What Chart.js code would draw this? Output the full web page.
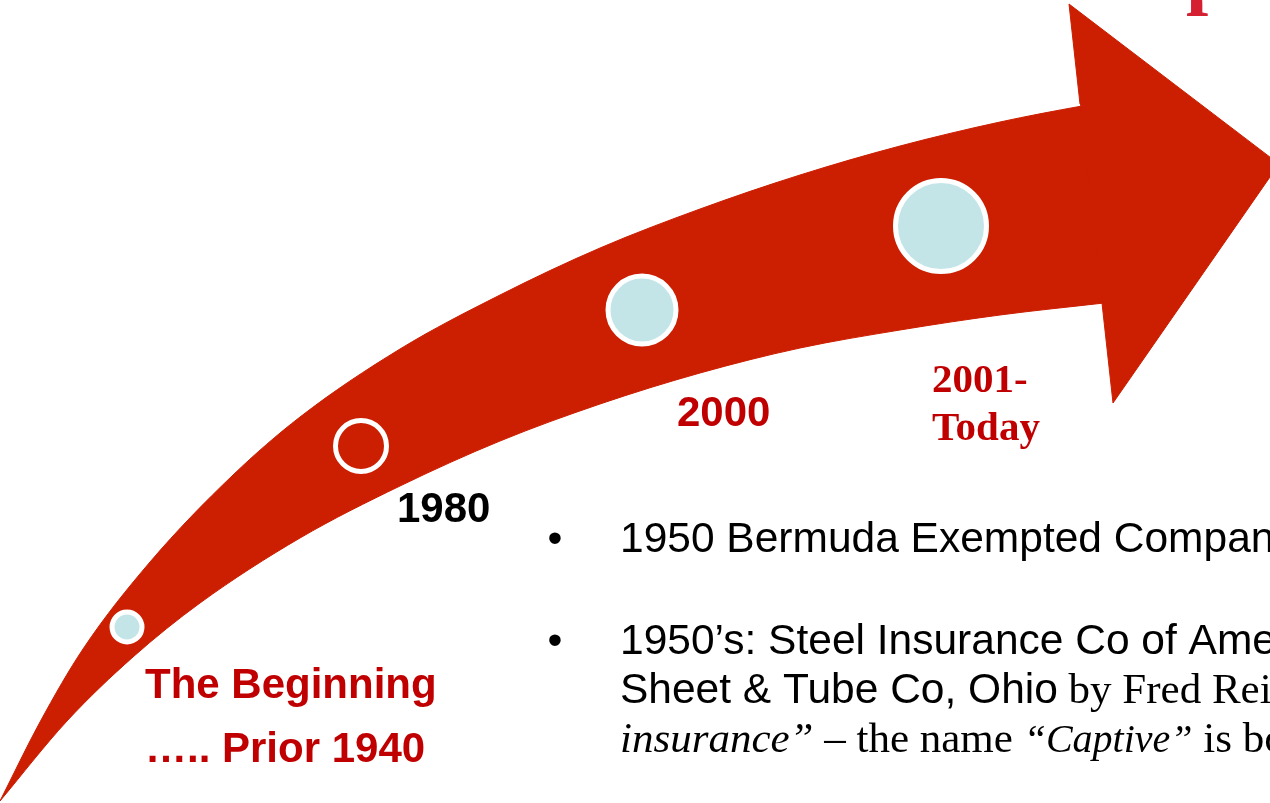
<!DOCTYPE html>
<html>
<head>
<meta charset="utf-8">
<script src="https://cdn.jsdelivr.net/npm/chart.js@4"></script>
<style>
  html, body { margin: 0; padding: 0; background: #ffffff; }
  #wrap { width: 1270px; height: 803px; overflow: hidden; }
</style>
</head>
<body>
<div id="wrap"><canvas id="timeline" width="1270" height="803"></canvas></div>
<script>
// --- DADOS ---
// outer (upper) edge of the arrow body, tail to head (last point sits inside the head)
const upperX = [0, 40, 83, 150, 233, 300, 400, 500, 600, 700, 800, 900, 1000, 1082, 1130];
const upperY = [801, 722, 649, 562, 475, 417, 349, 295, 248, 209, 175, 146, 122, 106, 98];
// inner (lower) edge of the arrow body, tail to head (last point sits inside the head)
const lowerX = [0, 67, 133, 200, 300, 400, 500, 600, 700, 800, 900, 1000, 1104, 1130];
const lowerY = [801, 721, 657, 603, 538, 486, 441, 404, 373, 348, 330, 315, 303, 300];
// the head of the arrow: shoulder, top barb, tip, bottom barb, shoulder
const headX = [1080, 1069, 1279, 1113, 1102];
const headY = [104, 4, 164, 403, 303];

// milestones on the arrow
const milestoneX = [127, 361, 642, 941];
const milestoneY = [627, 446, 310, 226];
const milestoneR = [15, 25.5, 34, 45.5];
const milestoneFilled = [true, false, true, true];

// period labels
const periodText = ['The Beginning', '….. Prior 1940', '1980', '2000', '2001-', 'Today'];
const periodAt = [[145, 698], [145, 762], [397, 522], [677, 426], [932, 392], [932, 440]];

const ARROW_RED = '#cc1e00';
const LABEL_RED = '#c00000';
const DOT_FILL = '#c4e5e8';

// --- FORMAS ---
const upperEdge = upperX.map((x, i) => ({ x, y: upperY[i] }));
const lowerEdge = lowerX.map((x, i) => ({ x, y: lowerY[i] }));
const head = headX.map((x, i) => ({ x, y: headY[i] }));
const dots = milestoneX.map((x, i) => ({ x, y: milestoneY[i] }));

// fonts
const SANS = '"Liberation Sans", Arial, sans-serif';
const SERIF = '"Liberation Serif", "Times New Roman", serif';

const periodStyle = [
    { font: 'bold 42px ' + SANS, color: LABEL_RED },
    { font: 'bold 42px ' + SANS, color: LABEL_RED },
    { font: 'bold 42px ' + SANS, color: '#000000' },
    { font: 'bold 42px ' + SANS, color: LABEL_RED },
    { font: 'bold 41px ' + SERIF, color: LABEL_RED },
    { font: 'bold 41px ' + SERIF, color: LABEL_RED }
];

// bullet lines, each one a list of runs [text, font]
const sansTxt = '42.5px ' + SANS;
const serifTxt = '43px ' + SERIF;
const serifItTxt = 'italic 43px ' + SERIF;
const serifItSmall = 'italic 40px ' + SERIF;
const bulletLines = [
    { bullet: true, y: 552, runs: [['1950 Bermuda Exempted Company Act', sansTxt]] },
    { bullet: true, y: 654, runs: [['1950’s: Steel Insurance Co of America', sansTxt]] },
    { bullet: false, y: 703, runs: [['Sheet & Tube Co, Ohio', sansTxt], [' by Fred Reiss', serifTxt]] },
    { bullet: false, y: 752, runs: [['insurance”', serifItTxt], [' – the name ', serifTxt], ['“Captive”', serifItSmall], [' is born', serifTxt]] }
];

// --- PLUGIN DE TEXTO ---
const textPlugin = {
    id: 'slideText',
    afterDraw(chart) {
        const { ctx, scales } = chart;
        ctx.save();
        ctx.textBaseline = 'alphabetic';
        ctx.textAlign = 'left';

        // cut-off title glyph at the top right
        ctx.fillStyle = '#d42031';
        ctx.font = 'bold 80px ' + SERIF;
        ctx.fillText('p', scales.x.getPixelForValue(1186), scales.y.getPixelForValue(-1));

        periodText.forEach((t, i) => {
            ctx.font = periodStyle[i].font;
            ctx.fillStyle = periodStyle[i].color;
            ctx.fillText(t, scales.x.getPixelForValue(periodAt[i][0]), scales.y.getPixelForValue(periodAt[i][1]));
        });

        ctx.fillStyle = '#000000';
        bulletLines.forEach(line => {
            const y = scales.y.getPixelForValue(line.y);
            if (line.bullet) {
                ctx.font = sansTxt;
                ctx.textAlign = 'center';
                ctx.fillText('•', scales.x.getPixelForValue(555), y);
                ctx.textAlign = 'left';
            }
            let x = scales.x.getPixelForValue(620);
            line.runs.forEach(([txt, font]) => {
                ctx.font = font;
                ctx.fillText(txt, x, y);
                x += ctx.measureText(txt).width;
            });
        });
        ctx.restore();
    }
};

// --- GRÁFICO ---
const ctx = document.getElementById('timeline').getContext('2d');
new Chart(ctx, {
    type: 'scatter',
    data: {
        datasets: [
            {
                label: 'milestones',
                data: dots,
                order: 0,
                pointRadius: milestoneR,
                pointBackgroundColor: milestoneFilled.map(f => f ? DOT_FILL : 'rgba(0,0,0,0)'),
                pointBorderColor: '#ffffff',
                pointBorderWidth: 5,
                showLine: false
            },
            {
                label: 'head',
                data: head,
                order: 1,
                showLine: true,
                fill: 'shape',
                backgroundColor: ARROW_RED,
                borderColor: ARROW_RED,
                borderWidth: 1,
                pointRadius: 0,
                tension: 0
            },
            {
                label: 'body upper',
                data: upperEdge,
                order: 2,
                showLine: true,
                fill: '+1',
                backgroundColor: ARROW_RED,
                borderColor: ARROW_RED,
                borderWidth: 1,
                pointRadius: 0,
                cubicInterpolationMode: 'monotone'
            },
            {
                label: 'body lower',
                data: lowerEdge,
                order: 3,
                showLine: true,
                fill: false,
                borderColor: ARROW_RED,
                borderWidth: 1,
                pointRadius: 0,
                cubicInterpolationMode: 'monotone'
            }
        ]
    },
    options: {
        responsive: false,
        animation: false,
        events: [],
        layout: { padding: 0, autoPadding: false },
        plugins: { legend: { display: false }, tooltip: { enabled: false } },
        scales: {
            x: { type: 'linear', min: 0, max: 1270, display: false },
            y: { type: 'linear', min: 0, max: 803, reverse: true, display: false }
        }
    },
    plugins: [textPlugin]
});
</script>
</body>
</html>
